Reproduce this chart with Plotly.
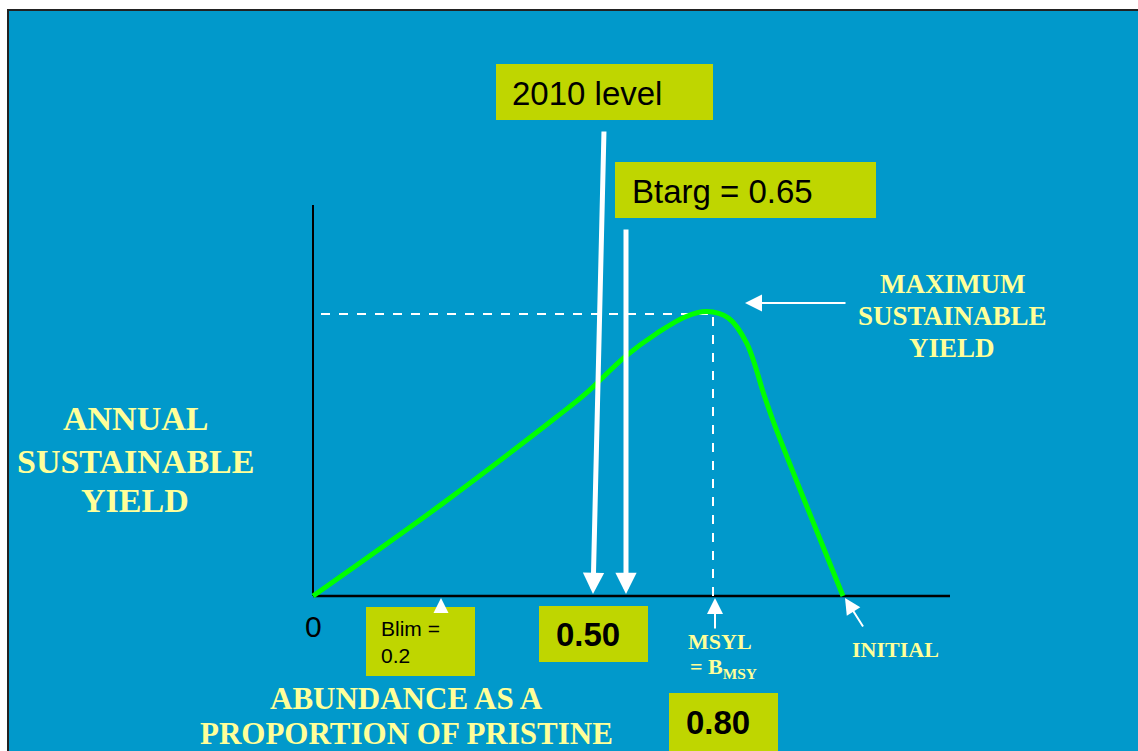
import plotly.graph_objects as go

# ---------------- data ----------------
# Surplus-production style yield curve (abundance as proportion of pristine, relative yield)
abundance = [0.0, 0.245, 0.460, 0.515, 0.589, 0.649, 0.703, 0.743, 0.784, 0.818, 0.852, 0.872, 0.932, 1.0]
yield_rel = [0.0, 0.325, 0.629, 0.711, 0.840, 0.922, 0.980, 0.998, 0.975, 0.888, 0.700, 0.595, 0.313, 0.0]

y_axis_label = ["ANNUAL", "SUSTAINABLE", "YIELD"]
x_axis_label = ["ABUNDANCE AS A", "PROPORTION OF PRISTINE"]
msy_label = ["MAXIMUM", "SUSTAINABLE", "YIELD"]
box_labels = ["2010 level", "Btarg = 0.65", "Blim =<br>0.2", "0.50", "0.80"]

# ---------------- layout helpers (pixel -> axis units) ----------------
W, H = 1138, 751
X0, XS = 313, 530   # origin px, px per abundance unit
Y0, YS = 596, 285   # origin px, px per yield unit

def xd(px):
    return (px - X0) / XS

def yd(py):
    return (Y0 - py) / YS

def xp(px):
    return px / W

def yp(py):
    return 1 - py / H

BLUE = "#0199CB"
BOX = "#BFD600"
YEL = "#FFFF99"
SERIF = "Liberation Serif, Times New Roman, serif"
SANS = "Liberation Sans, Arial, sans-serif"

fig = go.Figure()

fig.add_trace(go.Scatter(
    x=abundance, y=yield_rel, mode="lines",
    line=dict(color="#00FF00", width=5, shape="spline", smoothing=1.0),
    hoverinfo="skip", showlegend=False,
))

shapes = []
# slide background
shapes.append(dict(type="rect", xref="paper", yref="paper", x0=xp(8), x1=xp(1150), y0=yp(10), y1=yp(760),
                   fillcolor=BLUE, line=dict(color="#222222", width=2), layer="below"))
# axes
shapes.append(dict(type="line", xref="x", yref="y", x0=0, x1=xd(950), y0=0, y1=0,
                   line=dict(color="black", width=2.5), layer="below"))
shapes.append(dict(type="line", xref="x", yref="y", x0=0, x1=0, y0=0, y1=yd(205),
                   line=dict(color="black", width=2), layer="below"))
# MSY dashed guides
shapes.append(dict(type="line", xref="x", yref="y", x0=xd(321), x1=xd(713), y0=yd(314), y1=yd(314),
                   line=dict(color="white", width=2, dash="dash"), layer="below"))
shapes.append(dict(type="line", xref="x", yref="y", x0=xd(713), x1=xd(713), y0=0, y1=yd(314),
                   line=dict(color="white", width=2, dash="dash"), layer="below"))

# label boxes (px: x0, y0, x1, y1)
boxes = [(496, 64, 713, 120), (615, 162, 876, 218), (366, 607, 475, 676), (539, 606, 648, 662), (669, 693, 778, 751)]
for (a, b, c, d) in boxes:
    shapes.append(dict(type="rect", xref="paper", yref="paper", x0=xp(a), x1=xp(c), y0=yp(d), y1=yp(b),
                       fillcolor=BOX, line=dict(width=0), layer="above"))

ann = []

def arrow(tip_x, tip_y, tail_x, tail_y, width, size, head=2):
    ann.append(dict(xref="paper", yref="paper", x=xp(tip_x), y=yp(tip_y),
                    ax=tail_x - tip_x, ay=tail_y - tip_y, axref="pixel", ayref="pixel",
                    showarrow=True, arrowhead=head, arrowwidth=width, arrowsize=size,
                    arrowcolor="white", text="", standoff=0))

arrow(593, 594, 604, 130, 5, 0.85)
arrow(626, 594, 626, 228, 5, 0.85)
arrow(745, 303, 847, 303, 2, 1.7)
arrow(715, 598, 715, 630, 2, 1.6)
arrow(845, 598, 864, 628, 2, 1.6)
arrow(441, 598, 441, 607, 2, 1.5)

def text(t, x, y, size, font=SERIF, color=YEL, xanchor="center", bold=True):
    ann.append(dict(xref="paper", yref="paper", x=xp(x), y=yp(y), text=t, showarrow=False,
                    xanchor=xanchor, yanchor="middle",
                    font=dict(family=font, size=size, color=color, weight="bold" if bold else "normal")))

for t, yy in zip(y_axis_label, [418, 461, 500]):
    text(t, 135, yy, 34)
for t, yy in zip(msy_label, [284, 316, 348]):
    text(t, 952, yy, 27)
for t, yy in zip(x_axis_label, [698, 733]):
    text(t, 406, yy, 31)
text("MSYL", 720, 641, 22)
text("= B<sub>MSY</sub>", 688, 668, 22, xanchor="left")
text("INITIAL", 895, 649, 22)
text("0", 313, 626, 30, font=SANS, color="black", bold=False)

text(box_labels[0], 510, 93, 33, font=SANS, color="black", xanchor="left", bold=False)
text(box_labels[1], 630, 191, 33, font=SANS, color="black", xanchor="left", bold=False)
ann.append(dict(xref="paper", yref="paper", x=xp(379), y=yp(642), text=box_labels[2], showarrow=False,
                xanchor="left", yanchor="middle", align="left",
                font=dict(family=SANS, size=21, color="black")))
text(box_labels[3], 554, 634, 33, font=SANS, color="black", xanchor="left")
text(box_labels[4], 684, 722, 33, font=SANS, color="black", xanchor="left")

fig.update_layout(
    width=W, height=H, autosize=False,
    margin=dict(l=0, r=0, t=0, b=0),
    paper_bgcolor="white", plot_bgcolor="rgba(0,0,0,0)",
    xaxis=dict(range=[xd(0), xd(W)], visible=False, fixedrange=True),
    yaxis=dict(range=[yd(H), yd(0)], visible=False, fixedrange=True),
    shapes=shapes, annotations=ann, showlegend=False,
)

fig.write_html("out.html", config={"displayModeBar": False})
